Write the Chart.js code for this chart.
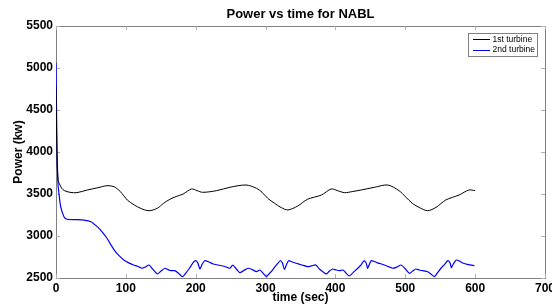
<!DOCTYPE html>
<html>
<head>
<meta charset="utf-8">
<script src="https://cdn.jsdelivr.net/npm/chart.js@4.4.1/dist/chart.umd.min.js"></script>
<style>
  html, body { margin: 0; padding: 0; background: #fff; }
  #wrap { width: 552px; height: 306px; }
</style>
</head>
<body>
<div id="wrap"><canvas id="chart" width="552" height="306"></canvas></div>
<script>
// Labels
const chartTitle = 'Power vs time for NABL';
const seriesNames = ['1st turbine', '2nd turbine'];
const xTicks = [0, 100, 200, 300, 400, 500, 600, 700];
const yTicks = [2500, 3000, 3500, 4000, 4500, 5000, 5500];

// 1st turbine (black)
const time1 = [0, 1.5, 3, 5, 8, 12, 20, 30, 45, 60, 73, 83, 92, 102, 112, 121, 133, 145, 154, 163, 172, 182, 194,
  202, 210, 230, 249, 272, 287, 295, 303, 313, 322, 332, 346, 360, 380, 394, 403, 413, 425, 437, 456, 475, 491,
  500, 510, 521, 532, 544, 558, 577, 591, 600];
const power1 = [4780, 3900, 3660, 3620, 3570, 3540, 3520, 3516, 3548, 3575, 3599, 3587, 3530, 3429, 3370, 3330, 3301,
  3330, 3389, 3437, 3470, 3500, 3560, 3540, 3520, 3540, 3580, 3607, 3568, 3520, 3449, 3389, 3340, 3310, 3357, 3437,
  3488, 3560, 3540, 3516, 3530, 3548, 3580, 3607, 3540, 3470, 3389, 3335, 3301, 3341, 3429, 3488, 3548, 3540];

// 2nd turbine (blue)
const time2 = [0, 1.5, 3, 4.3, 6.7, 11.4, 16, 28, 40, 50, 59, 66, 73, 79, 85, 91, 97, 104, 111, 117, 123, 128, 133,
  139, 145, 150, 156, 160, 165, 170, 175, 181, 186, 191, 196, 200, 203, 206, 209, 213, 219, 225, 232, 239, 244, 249,
  253, 258, 263, 269, 275, 281, 287, 292, 296, 301, 305, 310, 315, 321, 324, 327, 330, 333, 338, 344, 352, 360, 366,
  372, 377, 382, 387, 391, 396, 401, 406, 411, 415, 420, 426, 432, 437, 441, 444, 446, 448, 451, 455, 460, 465, 470,
  476, 482, 488, 494, 500, 506, 511, 515, 520, 525, 532, 537, 542, 546, 551, 556, 561, 564, 566, 569, 573, 578, 583,
  590, 599];
const power2 = [5060, 4000, 3600, 3500, 3349, 3230, 3199, 3195, 3190, 3170, 3111, 3050, 2973, 2890, 2813, 2760, 2714,
  2680, 2655, 2640, 2616, 2630, 2655, 2600, 2548, 2580, 2616, 2600, 2587, 2587, 2560, 2516, 2560, 2616, 2680, 2706,
  2680, 2607, 2660, 2706, 2690, 2667, 2655, 2643, 2630, 2616, 2655, 2610, 2563, 2590, 2616, 2600, 2575, 2595, 2560,
  2516, 2550, 2595, 2650, 2706, 2680, 2603, 2660, 2706, 2690, 2675, 2655, 2635, 2645, 2655, 2607, 2575, 2548, 2580,
  2607, 2595, 2587, 2595, 2560, 2524, 2570, 2616, 2660, 2706, 2680, 2616, 2650, 2706, 2700, 2680, 2670, 2655, 2635,
  2616, 2630, 2655, 2610, 2556, 2585, 2607, 2595, 2587, 2575, 2545, 2516, 2560, 2616, 2660, 2706, 2680, 2623, 2670,
  2714, 2700, 2675, 2660, 2646];

const toPoints = (xs, ys) => xs.map((t, i) => ({ x: t, y: ys[i] }));

const font = 'Liberation Sans, Arial, Helvetica, sans-serif';

// MATLAB style box with inward ticks (under the lines), title and legend on top
const matlabFrame = {
  id: 'matlabFrame',
  beforeDatasetsDraw(chart) {
    const { ctx, chartArea: a, scales: { x, y } } = chart;
    ctx.save();
    ctx.strokeStyle = '#808080';
    ctx.lineWidth = 1;
    ctx.strokeRect(a.left + 0.5, a.top + 0.5, a.right - a.left, a.bottom - a.top);

    ctx.strokeStyle = '#b0b0b0';
    ctx.beginPath();
    xTicks.forEach(v => {
      const px = Math.round(x.getPixelForValue(v)) + 0.5;
      ctx.moveTo(px, a.bottom); ctx.lineTo(px, a.bottom - 4);
      ctx.moveTo(px, a.top); ctx.lineTo(px, a.top + 4);
    });
    yTicks.forEach(v => {
      const py = Math.round(y.getPixelForValue(v)) + 0.5;
      ctx.moveTo(a.left, py); ctx.lineTo(a.left + 4, py);
      ctx.moveTo(a.right, py); ctx.lineTo(a.right - 4, py);
    });
    ctx.stroke();
    ctx.restore();
  },
  afterDraw(chart) {
    const { ctx, chartArea: a } = chart;
    ctx.save();
    // title
    ctx.fillStyle = '#000';
    ctx.font = 'bold 13px ' + font;
    ctx.textAlign = 'center';
    ctx.textBaseline = 'middle';
    ctx.fillText(chartTitle, (a.left + a.right) / 2, 14);

    // legend
    const lx = 468, ly = 33, lw = 69, lh = 23;
    ctx.fillStyle = '#fff';
    ctx.fillRect(lx, ly, lw, lh);
    ctx.strokeStyle = '#808080';
    ctx.lineWidth = 1;
    ctx.strokeRect(lx + 0.5, ly + 0.5, lw, lh);
    ctx.font = '8.5px ' + font;
    ctx.textAlign = 'left';
    chart.data.datasets.forEach((ds, i) => {
      const yy = ly + 6 + i * 10.5;
      ctx.strokeStyle = ds.borderColor;
      ctx.beginPath();
      ctx.moveTo(lx + 5, Math.round(yy) + 0.5);
      ctx.lineTo(lx + 22, Math.round(yy) + 0.5);
      ctx.stroke();
      ctx.fillStyle = '#000';
      ctx.fillText(ds.label, lx + 24.5, yy + 0.5);
    });
    ctx.restore();
  }
};

new Chart(document.getElementById('chart'), {
  type: 'line',
  data: {
    datasets: [
      {
        label: seriesNames[0],
        data: toPoints(time1, power1),
        borderColor: '#000000',
        borderWidth: 1,
        pointRadius: 0,
        tension: 0.3
      },
      {
        label: seriesNames[1],
        data: toPoints(time2, power2),
        borderColor: '#0000ff',
        borderWidth: 1.2,
        pointRadius: 0,
        tension: 0.2
      }
    ]
  },
  options: {
    responsive: false,
    animation: false,
    layout: { padding: { top: 26, right: 7, left: 0, bottom: 0 } },
    plugins: {
      legend: { display: false },
      title: { display: false },
      tooltip: { enabled: false }
    },
    scales: {
      x: {
        type: 'linear',
        min: 0,
        max: 700,
        grid: { display: false, drawTicks: false },
        border: { display: false },
        ticks: {
          stepSize: 100,
          padding: 3,
          color: '#000',
          maxRotation: 0,
          callback: v => String(v),
          font: { family: font, size: 12, weight: 'bold' }
        },
        title: {
          display: true,
          text: 'time (sec)',
          color: '#000',
          padding: { top: 0, bottom: 1 },
          font: { family: font, size: 12, weight: 'bold' }
        },
        afterFit(scale) {
          scale.height = 28;
          scale.paddingLeft = 0;
          scale.paddingRight = 0;
        }
      },
      y: {
        min: 2500,
        max: 5500,
        grid: { display: false, drawTicks: false },
        border: { display: false },
        ticks: {
          stepSize: 500,
          padding: 3,
          color: '#000',
          callback: v => String(v),
          font: { family: font, size: 12, weight: 'bold' }
        },
        title: {
          display: true,
          text: 'Power (kw)',
          color: '#000',
          padding: { top: 11, bottom: 0 },
          font: { family: font, size: 12, weight: 'bold' }
        },
        afterFit(scale) {
          scale.width = 56;
          scale.paddingTop = 0;
          scale.paddingBottom = 0;
        }
      }
    }
  },
  plugins: [matlabFrame]
});
</script>
</body>
</html>
